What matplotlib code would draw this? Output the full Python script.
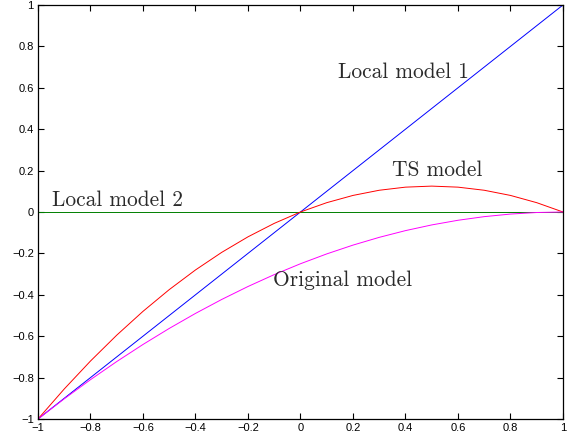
import matplotlib
matplotlib.use("Agg")
import matplotlib.pyplot as plt
import numpy as np

x = [-1.0, -0.9, -0.8, -0.7, -0.6, -0.5, -0.4, -0.3, -0.2, -0.1, 0.0,
     0.1, 0.2, 0.3, 0.4, 0.5, 0.6, 0.7, 0.8, 0.9, 1.0]
local1 = [-1.0, -0.9, -0.8, -0.7, -0.6, -0.5, -0.4, -0.3, -0.2, -0.1, 0.0,
          0.1, 0.2, 0.3, 0.4, 0.5, 0.6, 0.7, 0.8, 0.9, 1.0]
local2 = [0.0] * 21
ts_model = [-1.0, -0.855, -0.72, -0.595, -0.48, -0.375, -0.28, -0.195, -0.12, -0.055, 0.0,
            0.045, 0.08, 0.105, 0.12, 0.125, 0.12, 0.105, 0.08, 0.045, 0.0]
original = [-1.0, -0.9025, -0.81, -0.7225, -0.64, -0.5625, -0.49, -0.4225, -0.36, -0.3025, -0.25,
            -0.2025, -0.16, -0.1225, -0.09, -0.0625, -0.04, -0.0225, -0.01, -0.0025, 0.0]
ticks = [-1, -0.8, -0.6, -0.4, -0.2, 0, 0.2, 0.4, 0.6, 0.8, 1]
tick_labels = ["\u22121", "\u22120.8", "\u22120.6", "\u22120.4", "\u22120.2", "0",
               "0.2", "0.4", "0.6", "0.8", "1"]
labels = ["Local model 1", "TS model", "Local model 2", "Original model"]
label_x = [0.143, 0.349, -0.947, -0.105]
label_y = [0.676, 0.203, 0.058, -0.328]

fig = plt.figure(figsize=(5.73, 4.41), dpi=100)
ax = fig.add_axes([0.0663, 0.0499, 0.9825 - 0.0663, 0.9887 - 0.0499])

ax.plot(x, local1, color=(0, 0, 1), lw=0.7)
ax.plot(x, local2, color=(0, 0.5, 0), lw=0.7)
ax.plot(x, ts_model, color=(1, 0, 0), lw=0.7)
ax.plot(x, original, color=(1, 0, 1), lw=0.7)

for t, tx, ty in zip(labels, label_x, label_y):
    ax.text(tx, ty, t, family="cmr10", fontsize=15.4, color="#2a2a2a",
            ha="left", va="center")

ax.set_xlim(-1, 1)
ax.set_ylim(-1, 1)
ax.set_xticks(ticks)
ax.set_xticklabels(tick_labels)
ax.set_yticks(ticks)
ax.set_yticklabels(tick_labels)
ax.tick_params(direction="in", top=True, right=True, length=4, width=0.8,
               labelsize=8, pad=3)
for lab in ax.get_xticklabels() + ax.get_yticklabels():
    lab.set_family("Liberation Sans")
for s in ax.spines.values():
    s.set_linewidth(0.9)

fig.savefig("out.png", dpi=100)
